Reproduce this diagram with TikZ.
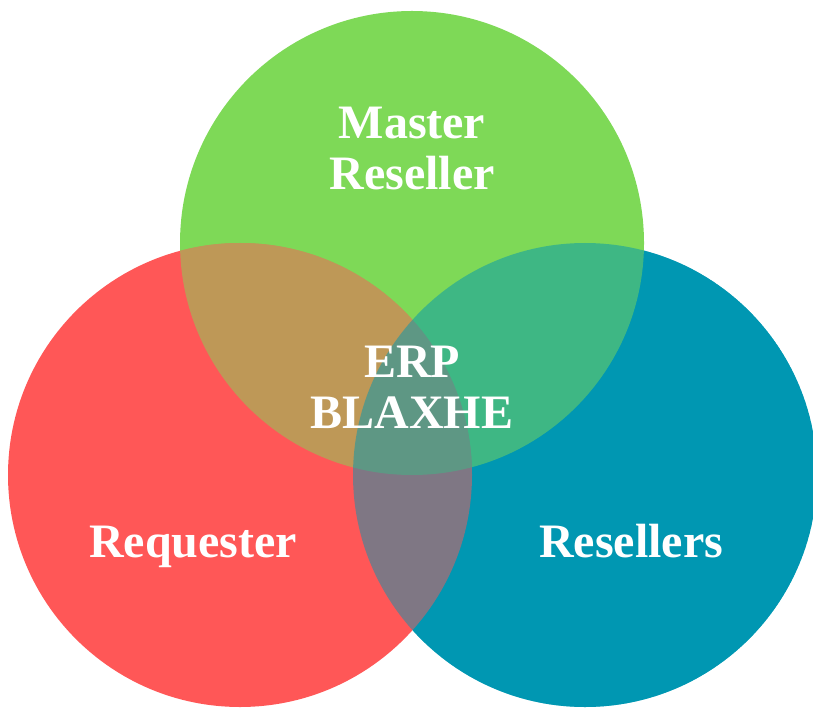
\documentclass[tikz,border=0pt]{standalone}
\usepackage{fontspec}
\setmainfont{Liberation Serif}
\definecolor{cgreen}{HTML}{7ED957}
\definecolor{cred}{HTML}{FF5757}
\definecolor{cteal}{HTML}{0097B2}
\begin{document}
\begin{tikzpicture}[x=1pt,y=-1pt,
  lbl/.style={text=white, font=\bfseries\fontsize{48}{51}\selectfont, align=center, inner sep=0pt}]
\useasboundingbox (0,0) rectangle (813,708);
\coordinate (G) at (412,243);
\coordinate (R) at (240,475);
\coordinate (T) at (585,475);
\fill[cteal] (T) circle[radius=232pt];
\fill[cgreen] (G) circle[radius=232pt];
\fill[cred] (R) circle[radius=232pt];
\begin{scope}
  \clip (R) circle[radius=232pt];
  \fill[cgreen, opacity=0.5] (G) circle[radius=232pt];
\end{scope}
\begin{scope}
  \clip (T) circle[radius=232pt];
  \fill[cteal, opacity=0.5] (T) circle[radius=232pt];
\end{scope}
\node[lbl, anchor=base] (mr) at (412,190) {Master\\Reseller};
\node[lbl, anchor=base] (erp) at (412,428) {ERP\\BLAXHE};
\node[lbl, anchor=base] (req) at (193,557) {Requester};
\node[lbl, anchor=base] (res) at (631,557) {Resellers};
\end{tikzpicture}
\end{document}
